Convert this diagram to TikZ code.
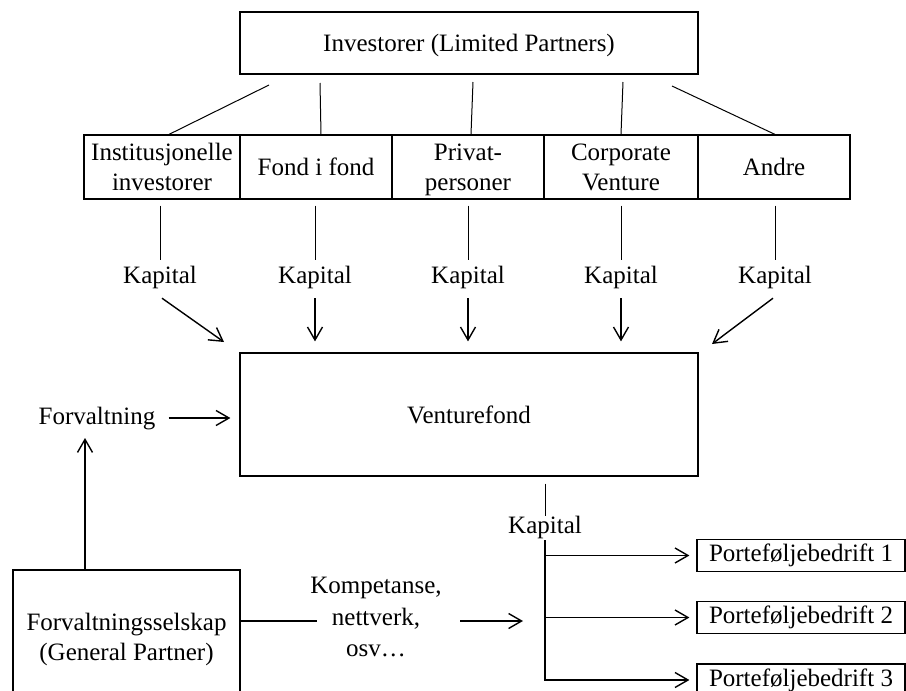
\documentclass[tikz,border=0pt]{standalone}
\usepackage{fontspec}
\setmainfont{Liberation Serif}
\usetikzlibrary{arrows.meta}
\begin{document}
\begin{tikzpicture}[x=1pt,y=-1pt,
  every node/.style={font=\fontsize{25}{30}\selectfont, inner sep=0pt, align=center},
  box/.style={draw, line width=1.2pt},
  rowbox/.style={box, minimum height=64pt, text depth=0pt},
  lbl/.style={text height=17pt, text depth=5pt},
  ln/.style={line width=1pt},
  arr/.style={line width=1.4pt, -{Straight Barb[length=13pt,width=15pt]}},
  thk/.style={line width=1.4pt},
]
\clip (0,0) rectangle (906,691);
% top box
\node[box, minimum width=458pt, minimum height=62pt, text height=17pt, text depth=0pt] (top) at (469,43) {Investorer (Limited Partners)};
% row boxes
\node[rowbox, minimum width=156pt] (r1) at (162,167) {Institusjonelle\\investorer};
\node[rowbox, minimum width=152pt] (r2) at (316,167) {Fond i fond};
\node[rowbox, minimum width=152pt] (r3) at (468,167) {Privat-\\personer};
\node[rowbox, minimum width=154pt] (r4) at (621,167) {Corporate\\Venture};
\node[rowbox, minimum width=152pt] (r5) at (774,167) {Andre};
% top connectors
\coordinate (a1) at (269,85);
\coordinate (a2) at (320,83);
\coordinate (a3) at (473,82);
\coordinate (a4) at (623,82);
\coordinate (a5) at (672,86);
\draw[ln] (a1) -- ([xshift=7pt]r1.north);
\draw[ln] (a2) -- ([xshift=5pt]r2.north);
\draw[ln] (a3) -- ([xshift=3pt]r3.north);
\draw[ln] (a4) -- (r4.north);
\draw[ln] (a5) -- ([xshift=1pt]r5.north);
% Kapital labels
\node[lbl] (k1) at (160,277) {Kapital};
\node[lbl] (k2) at (315,277) {Kapital};
\node[lbl] (k3) at (468,277) {Kapital};
\node[lbl] (k4) at (621,277) {Kapital};
\node[lbl] (k5) at (775,277) {Kapital};
\foreach \i in {1,...,5}{
  \draw[ln, shorten <=6pt, shorten >=6pt] (r\i.south -| k\i) -- (k\i.north);
}
% Venturefond
\node[box, minimum width=458pt, minimum height=123pt] (vf) at (469,414.5) {Venturefond};
% arrows into Venturefond
\coordinate (e1) at (224,342);
\coordinate (e5) at (712,344);
\draw[arr] ([xshift=2pt,yshift=-10pt]k1.south) -- (e1);
\draw[arr] ([xshift=-2pt,yshift=-10pt]k5.south) -- (e5);
\foreach \i in {2,3,4}{
  \draw[arr, shorten <=10pt, shorten >=11pt] (k\i.south) -- (k\i.south |- vf.north);
}
% Forvaltning
\node[lbl] (fv) at (97,418) {Forvaltning};
\draw[arr, shorten <=13pt, shorten >=9pt] (fv.east) -- (vf.west |- fv.east);
% General partner
\node[box, minimum width=227pt, minimum height=138pt] (gp) at (126.5,639) {Forvaltningsselskap\\(General Partner)};
\coordinate (ut) at (85,438);
\draw[arr] (gp.north -| ut) -- (ut);
% Kompetanse
\node[font=\fontsize{25}{31.5}\selectfont] (ko) at (376,617) {Kompetanse,\\nettverk,\\osv…};
\coordinate (kl) at (317,621);
\coordinate (kr) at (460,621);
\coordinate (ke) at (523,621);
\draw[thk] (gp.east |- kl) -- (kl);
\draw[arr] (kr) -- (ke);
% portfolio
\node[box, minimum width=208pt, minimum height=32pt] (p1) at (801,555.5) {Porteføljebedrift 1};
\node[box, minimum width=208pt, minimum height=32pt] (p2) at (801,617.5) {Porteføljebedrift 2};
\node[box, minimum width=208pt, minimum height=32pt] (p3) at (801,680) {Porteføljebedrift 3};
\node[lbl] (kb) at (545,527) {Kapital};
\draw[ln, shorten <=7pt] (vf.south -| kb) -- (kb.north);
\draw[arr, shorten <=2pt, shorten >=7pt] (kb.south) -- (kb.south |- p3.west) -- (p3.west);
\draw[arr, shorten >=7pt] (kb.south |- p1.west) -- (p1.west);
\draw[arr, shorten >=7pt] (kb.south |- p2.west) -- (p2.west);
\end{tikzpicture}
\end{document}
